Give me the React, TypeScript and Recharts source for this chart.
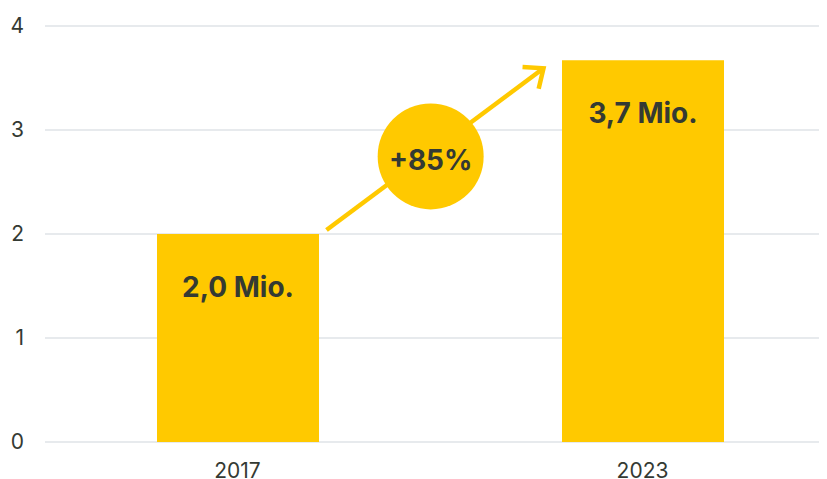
import React from 'react';
import {
  BarChart,
  Bar,
  XAxis,
  YAxis,
  CartesianGrid,
  LabelList,
  ReferenceLine,
} from 'recharts';

const years = ['2017', '2023'];
const values = [2.0, 3.67];
const valueLabels = ['2,0 Mio.', '3,7 Mio.'];
const growthLabel = '+85%';
const yTicks = [0, 1, 2, 3, 4];

const YELLOW = '#ffc900';
const INK = '#343a33';
const FONT = 'Inter, "Noto Sans", sans-serif';

const data = years.map((year, i) => ({ year, value: values[i], label: valueLabels[i] }));

const ValueLabel = (props: any) => {
  const { x, y, width, index } = props;
  return (
    <text
      x={x + width / 2}
      y={y + 63}
      textAnchor="middle"
      fill={INK}
      fontSize={28}
      fontWeight={700}
      fontFamily={FONT}
    >
      {valueLabels[index]}
    </text>
  );
};

// arrow + growth bubble, positioned from the two bar tops the reference line gets
const GrowthArrow = (props: any) => {
  const { x1, y1, x2, y2 } = props;
  if ([x1, y1, x2, y2].some((v) => typeof v !== 'number' || isNaN(v))) return null;
  const halfBar = (x2 - x1) * 0.2;
  const sx = x1 + halfBar + 8;
  const sy = y1 - 4;
  const tx = x2 - halfBar - 18;
  const ty = y2 + 8;
  const ang = Math.atan2(ty - sy, tx - sx);
  const back = ang + Math.PI;
  const armLen = 21;
  const spread = (40 * Math.PI) / 180;
  const a1x = tx + armLen * Math.cos(back + spread);
  const a1y = ty + armLen * Math.sin(back + spread);
  const a2x = tx + armLen * Math.cos(back - spread);
  const a2y = ty + armLen * Math.sin(back - spread);
  const t = 0.48;
  const cx = sx + (tx - sx) * t;
  const cy = sy + (ty - sy) * t + 4;
  return (
    <g>
      <line x1={sx} y1={sy} x2={tx} y2={ty} stroke={YELLOW} strokeWidth={4.5} />
      <polyline
        points={`${a1x},${a1y} ${tx},${ty} ${a2x},${a2y}`}
        fill="none"
        stroke={YELLOW}
        strokeWidth={4.5}
        strokeLinejoin="miter"
      />
      <circle cx={cx} cy={cy} r={53} fill={YELLOW} />
      <text
        x={cx}
        y={cy + 14}
        textAnchor="middle"
        fill={INK}
        fontSize={28}
        fontWeight={700}
        fontFamily={FONT}
      >
        {growthLabel}
      </text>
    </g>
  );
};

export default function App() {
  return (
    <div style={{ position: 'absolute', left: 0, top: 0, width: 827, height: 479, background: '#fff' }}>
      <BarChart
        width={827}
        height={479}
        data={data}
        margin={{ top: 26, right: 8, left: 0, bottom: 0 }}
        barSize={162}
      >
        <CartesianGrid vertical={false} stroke="#d0d5dc" strokeWidth={1.2} />
        <XAxis
          dataKey="year"
          height={37}
          axisLine={false}
          tickLine={false}
          tickSize={0}
          tickMargin={21}
          padding={{ left: -10, right: -26 }}
          tick={{ fill: INK, fontSize: 21, fontFamily: FONT }}
          interval={0}
        />
        <YAxis
          width={45}
          domain={[0, 4]}
          ticks={yTicks}
          axisLine={false}
          tickLine={false}
          tickSize={0}
          tickMargin={21}
          tick={{ fill: INK, fontSize: 21, fontFamily: FONT }}
        />
        <Bar dataKey="value" fill={YELLOW} isAnimationActive={false}>
          <LabelList dataKey="label" content={<ValueLabel />} />
        </Bar>
        <ReferenceLine
          segment={[
            { x: years[0], y: values[0] },
            { x: years[1], y: values[1] },
          ]}
          ifOverflow="visible"
          shape={(p: any) => <GrowthArrow {...p} />}
        />
      </BarChart>
    </div>
  );
}
